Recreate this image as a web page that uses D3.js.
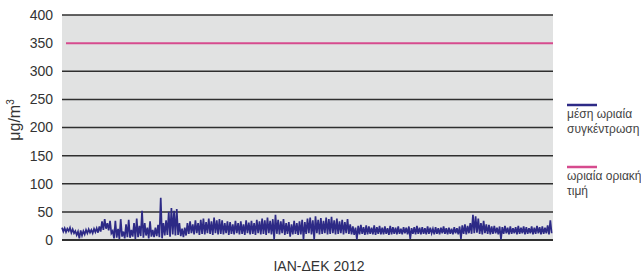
<!DOCTYPE html>
<html>
<head>
<meta charset="utf-8">
<script src="https://cdn.jsdelivr.net/npm/d3@7"></script>
<style>
  body { margin: 0; background: #fff; }
  svg text { font-family: "Liberation Sans Narrow", "Liberation Sans", Arial, sans-serif; }
</style>
</head>
<body>
<div id="chart"></div>
<script>
// y axis ticks
const yTicks = [0, 50, 100, 150, 200, 250, 300, 350, 400];

// hourly limit value
const limitValue = 350;

// 2-day samples across 2012: highest and lowest hourly value in each window
const sampleMax = [
  22, 21, 20, 22, 19, 16, 15, 17, 16, 18,
  19, 18, 20, 21, 24, 33, 37, 30, 34, 16,
  34, 20, 37, 15, 28, 36, 18, 30, 38, 25,
  52, 30, 22, 33, 18, 22, 27, 75, 30, 35,
  50, 57, 52, 55, 30, 20, 22, 30, 33, 28,
  35, 30, 36, 38, 32, 38, 33, 40, 35, 37,
  35, 30, 33, 32, 28, 34, 30, 33, 28, 35,
  31, 34, 30, 36, 33, 38, 35, 40, 34, 37,
  45, 36, 33, 37, 30, 32, 28, 34, 30, 33,
  36, 32, 38, 40, 35, 42, 36, 39, 34, 40,
  37, 41, 35, 38, 33, 36, 32, 37, 28, 24,
  22, 25, 27, 23, 26, 24, 22, 26, 23, 25,
  22, 24, 21, 25, 23, 22, 24, 20, 23, 22,
  24, 21, 23, 25, 22, 23, 21, 24, 22, 20,
  23, 21, 22, 24, 21, 22, 20, 23, 21, 24,
  26, 28, 25, 30, 45, 42, 38, 30, 34, 28,
  27, 24, 25, 22, 24, 23, 25, 22, 24, 21,
  23, 25, 22, 24, 23, 21, 24, 22, 25, 23,
  24, 22, 26, 35
];
const sampleMin = [
  15, 14, 16, 13, 12, 9, 3, 8, 10, 12,
  13, 12, 14, 13, 15, 18, 20, 17, 12, 3,
  4, 2, 6, 3, 5, 4, 6, 2, 5, 7,
  4, 8, 3, 6, 5, 7, 5, 3, 8, 9,
  6, 10, 8, 9, 7, 5, 8, 11, 12, 10,
  12, 9, 11, 10, 12, 11, 9, 12, 10, 11,
  10, 12, 9, 11, 10, 12, 10, 11, 9, 12,
  10, 11, 9, 12, 10, 11, 9, 12, 10, 1,
  11, 10, 12, 9, 11, 6, 10, 11, 9, 10,
  1, 11, 12, 10, 1, 12, 10, 11, 12, 10,
  11, 12, 10, 11, 12, 10, 12, 11, 10, 9,
  1, 10, 11, 9, 10, 11, 10, 9, 11, 10,
  10, 11, 9, 10, 11, 10, 11, 10, 12, 10,
  2, 11, 10, 11, 10, 11, 10, 11, 12, 10,
  11, 10, 12, 11, 10, 11, 10, 12, 10, 2,
  11, 10, 12, 11, 12, 13, 11, 10, 12, 11,
  10, 11, 12, 10, 1, 11, 12, 10, 11, 12,
  10, 11, 12, 10, 11, 12, 10, 11, 12, 10,
  11, 12, 10, 12
];

const xLabel = "IAN-ΔΕΚ 2012";
const yLabel = "μg/m";
const legendItems = [
  { lines: ["μέση ωριαία", "συγκέντρωση"], color: "#2d2a86" },
  { lines: ["ωριαία οριακή", "τιμή"], color: "#d64b8e" }
];

const width = 641, height = 278;
const margin = { top: 15, right: 88, bottom: 38, left: 62 };

const svg = d3.select("#chart").append("svg")
  .attr("width", width)
  .attr("height", height);

const n = sampleMax.length;
const xScale = d3.scaleLinear()
  .domain([0, n])
  .range([margin.left, width - margin.right]);

const yScale = d3.scaleLinear()
  .domain([0, 400])
  .range([height - margin.bottom, margin.top]);

// plot background
svg.append("rect")
  .attr("x", margin.left)
  .attr("y", margin.top)
  .attr("width", width - margin.right - margin.left)
  .attr("height", height - margin.bottom - margin.top)
  .attr("fill", "#e1e2e2");

// gridlines (350 is covered by the limit line)
svg.append("g")
  .selectAll("line")
  .data(yTicks.filter(d => d !== limitValue))
  .enter().append("line")
  .attr("x1", margin.left)
  .attr("x2", width - margin.right)
  .attr("y1", d => yScale(d))
  .attr("y2", d => yScale(d))
  .attr("stroke", "#2f2f2f")
  .attr("stroke-width", d => d === 0 ? 2 : 1.5);

// y axis labels
const yAxis = svg.append("g")
  .attr("transform", `translate(${margin.left - 9},0)`)
  .call(d3.axisLeft(yScale).tickValues(yTicks).tickSize(0).tickPadding(0));
yAxis.select(".domain").remove();
yAxis.selectAll("text")
  .attr("font-family", "'Liberation Sans Narrow', 'Liberation Sans', Arial, sans-serif")
  .attr("font-size", 14)
  .attr("fill", "#333");

// limit line
svg.append("line")
  .attr("x1", xScale(1.5))
  .attr("x2", xScale(n))
  .attr("y1", yScale(limitValue))
  .attr("y2", yScale(limitValue))
  .attr("stroke", legendItems[1].color)
  .attr("stroke-width", 2);

// concentration line: zig-zag between max and min of each window
const points = [];
sampleMax.forEach((v, i) => {
  points.push([i, v]);
  points.push([i + 0.5, sampleMin[i]]);
});

const line = d3.line()
  .x(d => xScale(d[0]))
  .y(d => yScale(d[1]));

svg.append("path")
  .datum(points)
  .attr("d", line)
  .attr("fill", "none")
  .attr("stroke", legendItems[0].color)
  .attr("stroke-width", 1.7)
  .attr("stroke-linejoin", "miter");

// x label
svg.append("text")
  .attr("x", 319)
  .attr("y", 271)
  .attr("text-anchor", "middle")
  .attr("font-size", 14)
  .attr("fill", "#333")
  .text(xLabel);

// y label
const yl = svg.append("text")
  .attr("transform", `translate(20,120) rotate(-90)`)
  .attr("text-anchor", "middle")
  .attr("font-family", "'Liberation Sans', Arial, sans-serif")
  .attr("font-size", 16)
  .attr("fill", "#333");
yl.append("tspan").text(yLabel);
yl.append("tspan").attr("dy", -6).attr("font-size", 10).text("3");

// legend
const legend = svg.append("g").attr("transform", "translate(567,0)");
const legendY = [105, 167];
legendItems.forEach((item, i) => {
  legend.append("line")
    .attr("x1", 0).attr("x2", 30)
    .attr("y1", legendY[i]).attr("y2", legendY[i])
    .attr("stroke", item.color)
    .attr("stroke-width", 2.5);
  item.lines.forEach((t, j) => {
    legend.append("text")
      .attr("x", 0)
      .attr("y", legendY[i] + 13 + j * 14.5)
      .attr("font-size", 12)
      .attr("fill", "#444")
      .text(t);
  });
});
</script>
</body>
</html>
